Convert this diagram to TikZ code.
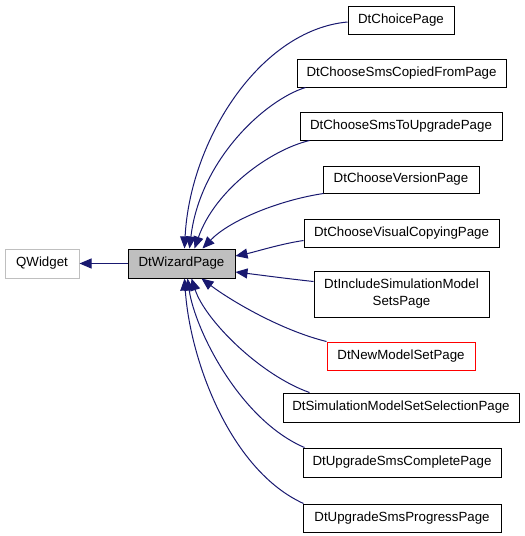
\documentclass[tikz,border=0pt]{standalone}
\usepackage{fontspec}
\setmainfont{Liberation Sans}
\usetikzlibrary{arrows.meta}
\definecolor{edgeblue}{HTML}{191970}
\definecolor{wizgrey}{HTML}{BFBFBF}
\definecolor{qgrey}{HTML}{BFBFBF}
\tikzset{
  classbox/.style={draw=black, line width=1pt, rectangle, inner sep=0pt, align=center,
    font=\fontsize{13.3}{17}\selectfont, text=black},
  inh/.style={draw=edgeblue, line width=1pt, -{Triangle[length=12pt,width=10pt]}, fill=none},
}
\begin{document}
\begin{tikzpicture}[x=1pt,y=-1pt]
\useasboundingbox (0,0) rectangle (525,536);
\fill[white] (0,0) rectangle (525,536);

\node[classbox, draw=qgrey, minimum width=74pt, minimum height=29pt] (qw) at (42,263.5) {QWidget};
\node[classbox, fill=wizgrey, minimum width=107pt, minimum height=29pt] (wiz) at (181.5,263.5) {DtWizardPage};

\node[classbox, minimum width=106pt, minimum height=28pt] (choice) at (401,20) {DtChoicePage};
\node[classbox, minimum width=209pt, minimum height=28pt] (copied) at (401.5,73) {DtChooseSmsCopiedFromPage};
\node[classbox, minimum width=202pt, minimum height=28pt] (toupg) at (401,126) {DtChooseSmsToUpgradePage};
\node[classbox, minimum width=156pt, minimum height=27pt] (version) at (401,179.5) {DtChooseVersionPage};
\node[classbox, minimum width=195pt, minimum height=28pt] (visual) at (401.5,233) {DtChooseVisualCopyingPage};
\node[classbox, minimum width=175pt, minimum height=46pt] (include) at (401.5,294) {DtIncludeSimulationModel\\SetsPage};
\node[classbox, draw=red, minimum width=148pt, minimum height=28pt] (newmodel) at (401,356) {DtNewModelSetPage};
\node[classbox, minimum width=236pt, minimum height=29pt] (simsel) at (401,407.5) {DtSimulationModelSetSelectionPage};
\node[classbox, minimum width=198pt, minimum height=29pt] (complete) at (402,462.5) {DtUpgradeSmsCompletePage};
\node[classbox, minimum width=198pt, minimum height=28pt] (progress) at (402,518) {DtUpgradeSmsProgressPage};

\draw[inh] (wiz.west) -- (qw.east);

\draw[inh] ([yshift=-2pt]choice.west) .. controls (260,30) and (190,140) .. ([xshift=57pt]wiz.north west);
\draw[inh] ([xshift=9pt]copied.south west) .. controls (265,100) and (200,160) .. ([xshift=62pt]wiz.north west);
\draw[inh] ([xshift=10pt]toupg.south west) .. controls (270,150) and (215,190) .. ([xshift=67pt]wiz.north west);
\draw[inh] ([xshift=1pt]version.south west) .. controls (280,200) and (230,220) .. ([xshift=75pt]wiz.north west);
\draw[inh] ([yshift=7pt]visual.south west) .. controls (280,244) and (255,252) .. ([yshift=7.5pt]wiz.east);
\draw[inh] ([yshift=-11pt]include.north west) .. controls (290,279) and (260,275) .. ([yshift=-8.5pt]wiz.east);
\draw[inh] (newmodel.north west) .. controls (280,330) and (230,300) .. ([xshift=74pt]wiz.south west);
\draw[inh] ([xshift=27pt]simsel.north west) .. controls (260,375) and (205,320) .. ([xshift=64pt]wiz.south west);
\draw[inh] ([xshift=2pt]complete.north west) .. controls (240,420) and (195,330) .. ([xshift=60pt]wiz.south west);
\draw[inh] ([xshift=1pt]progress.north west) .. controls (230,470) and (190,360) .. ([xshift=57pt]wiz.south west);
\end{tikzpicture}
\end{document}
